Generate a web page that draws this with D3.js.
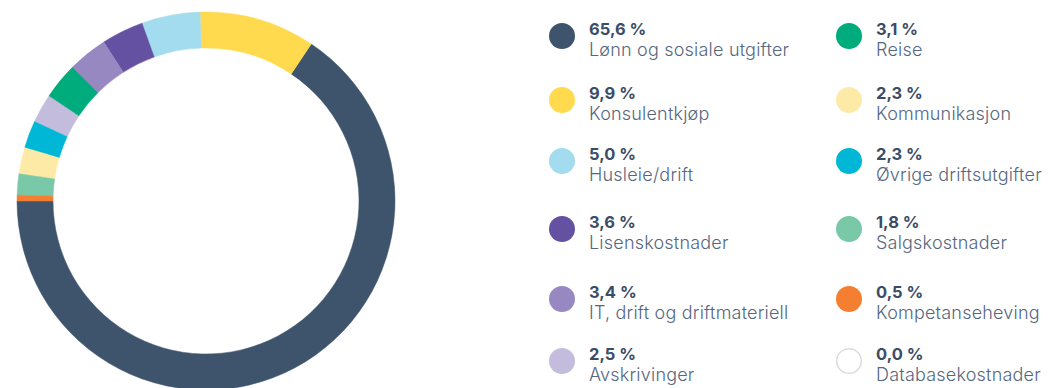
<!DOCTYPE html>
<html>
<head>
<meta charset="utf-8">
<script src="https://cdn.jsdelivr.net/npm/d3@7/dist/d3.min.js"></script>
<style>
  html, body { margin: 0; padding: 0; background: #fff; }
  svg { display: block; }
  .val { font-family: Inter, "Noto Sans", sans-serif; font-weight: 700; font-size: 16.5px; fill: #3b4d66; }
  .lbl { font-family: Inter, "Noto Sans", sans-serif; font-weight: 300; font-size: 18px; letter-spacing: 0.2px; fill: #55677f; }
</style>
</head>
<body>
<svg id="chart" width="1051" height="388"></svg>
<script>
// Cost categories (legend order: two columns, top to bottom)
const categories = [
  "Lønn og sosiale utgifter",
  "Konsulentkjøp",
  "Husleie/drift",
  "Lisenskostnader",
  "IT, drift og driftmateriell",
  "Avskrivinger",
  "Reise",
  "Kommunikasjon",
  "Øvrige driftsutgifter",
  "Salgskostnader",
  "Kompetanseheving",
  "Databasekostnader"
];
// Share of total costs, percent
const shares = [65.6, 9.9, 5.0, 3.6, 3.4, 2.5, 3.1, 2.3, 2.3, 1.8, 0.5, 0.0];
const colors = [
  "#3e546d", "#ffda4f", "#a4dcef", "#6451a1", "#9788c1", "#c3bcdd",
  "#00ac7b", "#feeaa7", "#00b8d5", "#79c8a8", "#f47f31", "#ffffff"
];

const fmt = v => v.toFixed(1).replace(".", ",") + " %";

const svg = d3.select("#chart");

// ---- Donut ----
const cx = 206, cy = 201, rOuter = 189, rInner = 153;
const items = categories.map((name, i) => ({ name, value: shares[i], color: colors[i], i }));

// Largest first, drawn counter-clockwise from 9 o'clock
const pie = d3.pie()
  .value(d => d.value)
  .sort((a, b) => (b.value - a.value) || (b.i - a.i))
  .startAngle(1.5 * Math.PI)
  .endAngle(-0.5 * Math.PI);

const arc = d3.arc().innerRadius(rInner).outerRadius(rOuter);

svg.append("g")
  .attr("transform", `translate(${cx},${cy})`)
  .selectAll("path")
  .data(pie(items.filter(d => d.value > 0)))
  .join("path")
  .attr("d", arc)
  .attr("fill", d => d.data.color)
  .attr("stroke", d => d.data.color)
  .attr("stroke-width", 0.5);

// ---- Legend ----
const colX = [562, 849];
const textDx = 27;
const rowY = [36, 100, 161, 229, 299, 361];
const perCol = 6;

const leg = svg.append("g")
  .selectAll("g")
  .data(items)
  .join("g")
  .attr("transform", d => `translate(${colX[Math.floor(d.i / perCol)]},${rowY[d.i % perCol]})`);

leg.append("circle")
  .attr("r", d => d.value > 0 ? 13 : 12.3)
  .attr("fill", d => d.color)
  .attr("stroke", d => d.value > 0 ? "none" : "#dcdcdc")
  .attr("stroke-width", 1.5);

leg.append("text")
  .attr("class", "val")
  .attr("x", textDx)
  .attr("y", -1)
  .text(d => fmt(d.value));

leg.append("text")
  .attr("class", "lbl")
  .attr("x", textDx)
  .attr("y", 20)
  .text(d => d.name);
</script>
</body>
</html>
